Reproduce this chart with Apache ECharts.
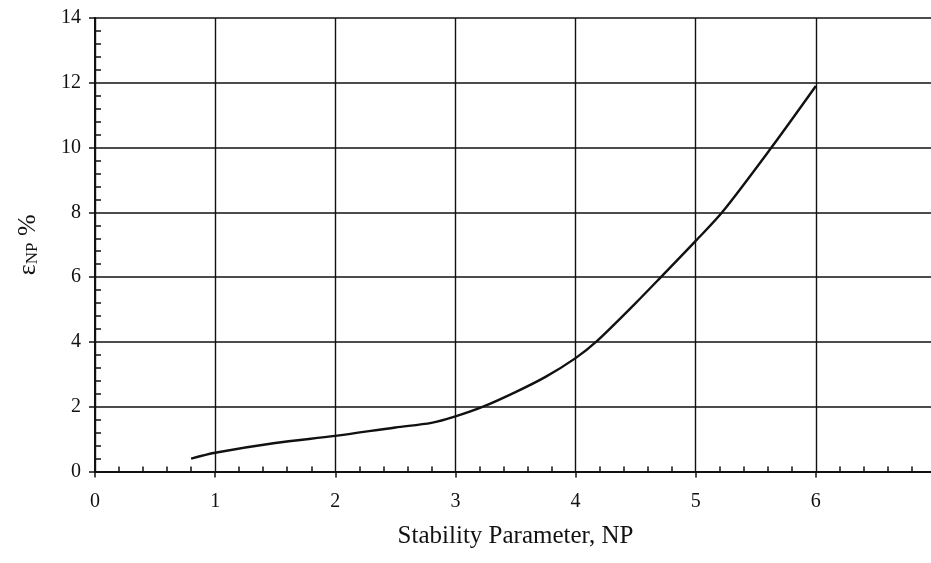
<!DOCTYPE html>
<html>
<head>
<meta charset="utf-8">
<script src="https://cdn.jsdelivr.net/npm/echarts@6/dist/echarts.min.js"></script>
<style>
  html, body { margin: 0; padding: 0; background: #fff; }
  #chart { width: 931px; height: 563px; }
</style>
</head>
<body>
<div id="chart"></div>
<script>
// Stability parameter NP and the corresponding strain epsilon_NP (%)
const npValues = [0.8, 1.0, 1.5, 2.0, 2.5, 2.8, 3.0, 3.23, 3.5, 3.75, 4.0, 4.17, 4.5, 4.71, 5.0, 5.22, 5.63, 6.0];
const strainValues = [0.4, 0.58, 0.88, 1.1, 1.36, 1.5, 1.7, 2.0, 2.45, 2.92, 3.5, 4.0, 5.2, 6.0, 7.12, 8.0, 10.0, 11.9];

const xTickLabels = ['0', '1', '2', '3', '4', '5', '6', '7'];
const yTickLabels = ['0', '2', '4', '6', '8', '10', '12', '14'];

const curve = npValues.map((x, i) => [x, strainValues[i]]);

const serif = '"Liberation Serif", "DejaVu Serif", serif';
const ink = '#111';

const chart = echarts.init(document.getElementById('chart'), null, { renderer: 'canvas' });

const baseX = {
  type: 'value',
  min: 0,
  max: 7,
  interval: 1,
  position: 'bottom',
  axisLine: { show: true, onZero: false, lineStyle: { color: ink, width: 2 } }
};
const baseY = {
  type: 'value',
  min: 0,
  max: 14,
  interval: 2,
  position: 'left',
  axisLine: { show: true, onZero: false, lineStyle: { color: ink, width: 2 } }
};

chart.setOption({
  animation: false,
  backgroundColor: '#fff',
  grid: { left: 95, top: 18, width: 841, height: 453.5, containLabel: false, outerBoundsMode: 'none' },
  xAxis: [
    Object.assign({}, baseX, {
      name: 'Stability Parameter, NP',
      nameLocation: 'middle',
      nameGap: 52,
      nameTextStyle: { fontFamily: serif, fontSize: 25, color: ink, verticalAlign: 'top' },
      axisTick: { show: true, inside: false, length: 6, lineStyle: { color: ink, width: 1.5 } },
      minorTick: { show: false },
      axisLabel: {
        margin: 20, fontFamily: serif, fontSize: 20, color: ink,
        formatter: v => xTickLabels[Math.round(v)] || ''
      },
      splitLine: { show: true, lineStyle: { color: ink, width: 1.4 } }
    }),
    Object.assign({}, baseX, {
      axisTick: { show: false, inside: true },
      minorTick: { show: true, splitNumber: 5, length: 5, lineStyle: { color: ink, width: 1.5 } },
      axisLabel: { show: false },
      splitLine: { show: false }
    })
  ],
  yAxis: [
    Object.assign({}, baseY, {
      name: '{e|ε}{s|NP}{e| %}',
      nameLocation: 'middle',
      nameGap: 54,
      nameRotate: 90,
      nameTextStyle: {
        fontFamily: serif, color: ink,
        rich: {
          e: { fontFamily: serif, fontSize: 26, color: ink },
          s: { fontFamily: serif, fontSize: 17, color: ink, verticalAlign: 'bottom', padding: [8, 0, 0, 0] }
        }
      },
      axisTick: { show: true, inside: false, length: 6, lineStyle: { color: ink, width: 1.5 } },
      minorTick: { show: false },
      axisLabel: {
        margin: 14, fontFamily: serif, fontSize: 20, color: ink,
        formatter: v => yTickLabels[Math.round(v / 2)] || ''
      },
      splitLine: { show: true, lineStyle: { color: ink, width: 1.5 } }
    }),
    Object.assign({}, baseY, {
      axisTick: { show: false, inside: true },
      minorTick: { show: true, splitNumber: 5, length: 6, lineStyle: { color: ink, width: 1.5 } },
      axisLabel: { show: false },
      splitLine: { show: false }
    })
  ],
  series: [{
    type: 'line',
    data: curve,
    smooth: 0.3,
    showSymbol: false,
    symbol: 'none',
    xAxisIndex: 0,
    yAxisIndex: 0,
    lineStyle: { color: ink, width: 2.4 }
  }]
});
</script>
</body>
</html>
